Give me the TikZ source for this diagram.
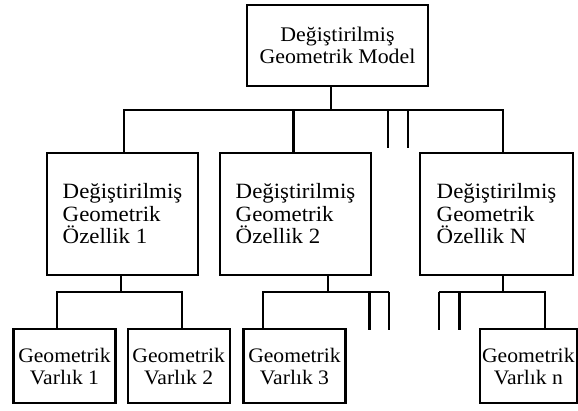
\documentclass[tikz,border=0pt]{standalone}
\usepackage{fontspec}
\setmainfont[FakeStretch=1.05]{Liberation Serif}
\usepackage{tikz}
\usetikzlibrary{positioning,calc}

\begin{document}
\begin{tikzpicture}[x=1pt, y=-1pt,
    kutu/.style={draw, line width=2.2pt, inner sep=0pt},
    model/.style={kutu, minimum width=181pt, minimum height=81pt, align=center, font=\fontsize{20.8}{22}\selectfont},
    ozellik/.style={kutu, minimum width=151pt, minimum height=122pt, align=left, font=\fontsize{21.8}{22.5}\selectfont},
    varlik/.style={kutu, minimum width=102pt, minimum height=74pt, align=center, font=\fontsize{20.6}{22.5}\selectfont},
    hat/.style={line width=2.2pt}]
    \useasboundingbox (0,0) rectangle (578,410);

    % Model
    \node [model] (model) at (337.5, 45.5) {Değiştirilmiş\\Geometrik Model};

    % Ozellikler
    \node [ozellik] (oz1) at (122.5, 213.75) {Değiştirilmiş\\Geometrik\\Özellik 1};
    \node [ozellik] (oz2) at (295.5, 213.75) {Değiştirilmiş\\Geometrik\\Özellik 2};
    \node [ozellik, minimum width=153pt] (ozN) at (496.5, 213.75) {Değiştirilmiş\\Geometrik\\Özellik N};

    % Varliklar
    \node [varlik] (var1) at (64.5, 366.3) {Geometrik\\Varlık 1};
    \node [varlik] (var2) at (178.7, 366.3) {Geometrik\\Varlık 2};
    \node [varlik] (var3) at (294.5, 366.3) {Geometrik\\Varlık 3};
    \node [varlik, minimum width=97pt] (varn) at (528.3, 366.3) {Geometrik\\Varlık n};

    % Model -> ozellikler
    \coordinate (m0) at (331, 110);
    \coordinate (m1) at (124, 110);
    \coordinate (m2) at (293.5, 110);
    \coordinate (m3) at (503, 110);
    \draw [hat] (model.south -| m0) -- (m0);
    \draw [hat] (oz1.north -| m1) |- (m3) -- (ozN.north -| m3);
    \draw [hat] (m2) -- (oz2.north -| m2);
    \foreach \x in {388, 408} {
        \draw [hat] (\x, 110) -- (\x, 148);
    }

    % Ozellik 1 -> varlik 1, 2
    \coordinate (a0) at (120.7, 292.3);
    \coordinate (a1) at (56.7, 292.3);
    \coordinate (a2) at (182.3, 292.3);
    \draw [hat] (oz1.south -| a0) -- (a0);
    \draw [hat] (var1.north -| a1) |- (a2) -- (var2.north -| a2);

    % Ozellik 2 -> varlik 3
    \coordinate (b0) at (327.7, 292.3);
    \coordinate (b1) at (263.3, 292.3);
    \draw [hat] (oz2.south -| b0) -- (b0);
    \draw [hat] (var3.north -| b1) |- (389, 292.3);
    \foreach \x in {369.5, 389} {
        \draw [hat] (\x, 292.3) -- (\x, 330);
    }

    % Ozellik N -> varlik n
    \coordinate (c0) at (502.7, 292.3);
    \coordinate (c1) at (545, 292.3);
    \draw [hat] (ozN.south -| c0) -- (c0);
    \draw [hat] (varn.north -| c1) |- (439, 292.3);
    \foreach \x in {439, 459.5} {
        \draw [hat] (\x, 292.3) -- (\x, 330);
    }
\end{tikzpicture}
\end{document}
